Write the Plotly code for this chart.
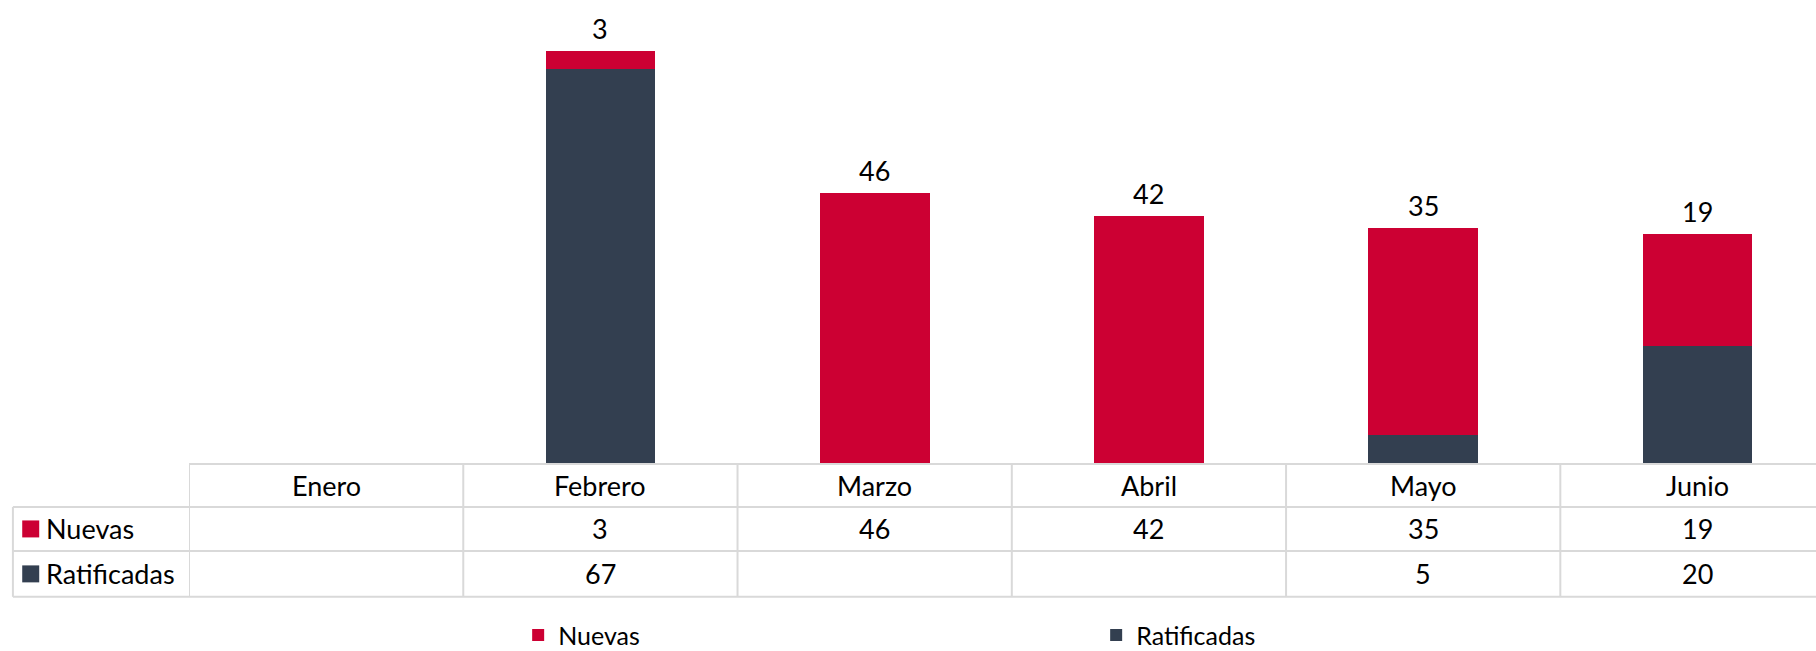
import plotly.graph_objects as go

months = ["Enero", "Febrero", "Marzo", "Abril", "Mayo", "Junio"]
nuevas = [None, 3, 46, 42, 35, 19]
ratificadas = [None, 67, None, None, 5, 20]

RED = "#CC0033"
DARK = "#333F50"
GRID = "#D9D9D9"
FONT = "Lato, 'Open Sans', sans-serif"

W, H = 1816, 651
L, T, B = 188.8, 0, 651 - 464.5
PW = W - L
PH = H - T - B
CAT_W = 274.3
xmax = -0.5 + PW / CAT_W


def py(p):
    """pixel y -> paper y"""
    return (H - B - p) / PH


def px(p):
    """pixel x -> paper x"""
    return (p - L) / PW


fig = go.Figure()
fig.add_trace(go.Bar(x=months, y=ratificadas, name="Ratificadas", marker_color=DARK,
                     marker_line_width=0, legendrank=2))
fig.add_trace(go.Bar(x=months, y=nuevas, name="Nuevas", marker_color=RED,
                     marker_line_width=0, legendrank=1))

totals = [(n or 0) + (r or 0) for n, r in zip(nuevas, ratificadas)]

annotations = []
for i, (m, n) in enumerate(zip(months, nuevas)):
    if n is not None:
        annotations.append(dict(x=m, y=totals[i], xref="x", yref="y", text=str(n),
                                showarrow=False, xanchor="center", yanchor="bottom", yshift=4,
                                font=dict(size=27, color="#000", family=FONT)))

# table geometry (pixels)
row_lines = [464.5, 507.5, 551.5, 597.5]
row_centers = [(row_lines[k] + row_lines[k + 1]) / 2 for k in range(3)]
left_edge = 12.7

shapes = []
shapes.append(dict(type="line", xref="paper", yref="paper", x0=0, x1=1.02,
                   y0=py(row_lines[0]), y1=py(row_lines[0]), line=dict(color=GRID, width=2)))
for yl in row_lines[1:]:
    shapes.append(dict(type="line", xref="paper", yref="paper", x0=px(left_edge), x1=1.02,
                       y0=py(yl), y1=py(yl), line=dict(color=GRID, width=2)))
for k in range(len(months) + 1):
    shapes.append(dict(type="line", xref="x", yref="paper", x0=k - 0.5, x1=k - 0.5,
                       y0=py(row_lines[0]), y1=py(row_lines[3]), line=dict(color=GRID, width=2)))
shapes.append(dict(type="line", xref="paper", yref="paper", x0=px(left_edge), x1=px(left_edge),
                   y0=py(row_lines[1]), y1=py(row_lines[3]), line=dict(color=GRID, width=2)))

for m in months:
    annotations.append(dict(x=m, y=py(row_centers[0]), xref="x", yref="paper", text=m,
                            showarrow=False, xanchor="center", yanchor="middle",
                            font=dict(size=27, color="#000", family=FONT)))
for r_idx, (name, vals, col) in enumerate([("Nuevas", nuevas, RED), ("Ratificadas", ratificadas, DARK)]):
    yc = row_centers[r_idx + 1]
    for m, v in zip(months, vals):
        if v is not None:
            annotations.append(dict(x=m, y=py(yc), xref="x", yref="paper", text=str(v),
                                    showarrow=False, xanchor="center", yanchor="middle",
                                    font=dict(size=27, color="#000", family=FONT)))
    annotations.append(dict(x=px(44), y=py(yc), xref="paper", yref="paper", text=name,
                            xanchor="left", yanchor="middle", showarrow=False,
                            font=dict(size=27, color="#000", family=FONT)))
    shapes.append(dict(type="rect", xref="paper", yref="paper", x0=px(22), x1=px(39),
                       y0=py(yc - 8.5), y1=py(yc + 8.5), fillcolor=col, line=dict(width=0)))

fig.update_layout(
    width=W, height=H,
    margin=dict(l=L, r=0, t=T, b=B, autoexpand=False),
    paper_bgcolor="white", plot_bgcolor="white",
    barmode="stack", bargap=0.6,
    xaxis=dict(range=[-0.5, xmax], showticklabels=False, showgrid=False, zeroline=False,
               showline=False, ticks="", fixedrange=True),
    yaxis=dict(range=[0, PH / 5.907], visible=False, fixedrange=True),
    showlegend=True,
    legend=dict(orientation="h", x=px(518), xanchor="left", y=py(636), yanchor="middle",
                entrywidth=578 - 45, entrywidthmode="pixels",
                font=dict(size=25, color="#000", family=FONT), traceorder="normal"),
    shapes=shapes,
    annotations=annotations,
)

fig.write_html("out.html", config={"displayModeBar": False},
               post_script="document.body.style.margin='0px';")
